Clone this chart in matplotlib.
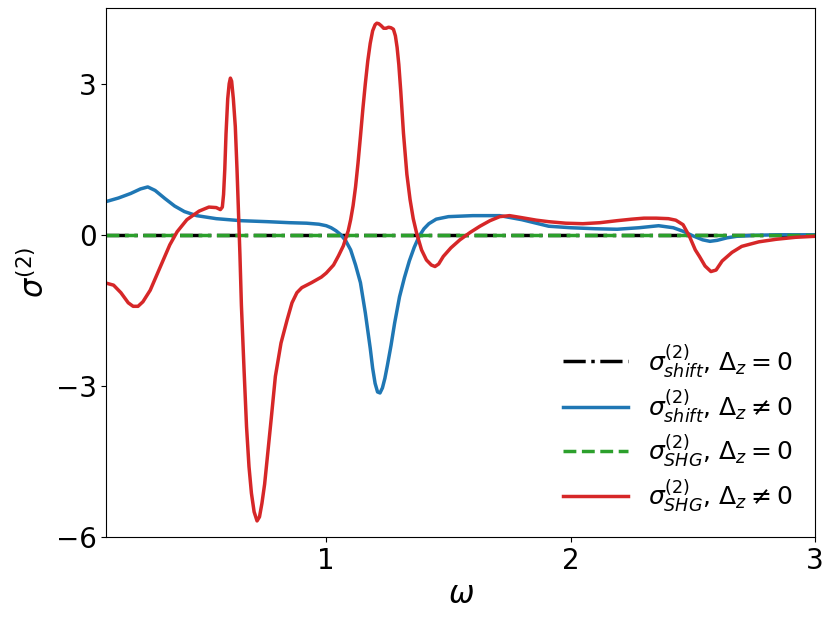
import numpy as np
import matplotlib.pyplot as plt

# omega grid (separate for each curve)
w_shift = [0.10, 0.15, 0.20, 0.24, 0.27, 0.30, 0.34, 0.38, 0.42, 0.47, 0.55, 0.65, 0.76, 0.85,
           0.92, 0.97, 1.00, 1.02, 1.04, 1.06, 1.08, 1.10, 1.12, 1.14, 1.16, 1.18, 1.19, 1.20,
           1.21, 1.22, 1.23, 1.24, 1.25, 1.265, 1.28, 1.30, 1.32, 1.34, 1.36, 1.38, 1.40, 1.42,
           1.45, 1.50, 1.60, 1.71, 1.80, 1.91, 2.00, 2.10, 2.19, 2.28, 2.36, 2.42, 2.46, 2.50,
           2.54, 2.57, 2.60, 2.64, 2.68, 2.75, 2.85, 3.00]
s_shift = [0.66, 0.73, 0.82, 0.91, 0.95, 0.88, 0.72, 0.57, 0.46, 0.38, 0.32, 0.28, 0.26, 0.24,
           0.23, 0.21, 0.18, 0.14, 0.08, 0.00, -0.12, -0.30, -0.60, -0.95, -1.55, -2.25, -2.65, -2.95,
           -3.12, -3.14, -3.04, -2.85, -2.60, -2.20, -1.75, -1.23, -0.85, -0.52, -0.25, -0.03, 0.12, 0.22,
           0.31, 0.36, 0.38, 0.38, 0.30, 0.17, 0.14, 0.12, 0.11, 0.14, 0.18, 0.14, 0.07, -0.02,
           -0.10, -0.13, -0.11, -0.06, -0.03, -0.01, 0.00, 0.00]

w_shg = [0.10, 0.13, 0.16, 0.19, 0.21, 0.23, 0.25, 0.28, 0.32, 0.36, 0.39, 0.43, 0.48, 0.52,
         0.55, 0.567, 0.575, 0.58, 0.585, 0.59, 0.597, 0.603, 0.608, 0.613, 0.62, 0.628, 0.635,
         0.64, 0.647, 0.653, 0.664, 0.674, 0.684, 0.694, 0.705, 0.717, 0.727, 0.737, 0.748,
         0.758, 0.775, 0.792, 0.815, 0.84, 0.86, 0.88, 0.90, 0.94, 0.98, 1.00, 1.03, 1.05,
         1.07, 1.09, 1.10, 1.11, 1.12, 1.13, 1.14, 1.15, 1.16, 1.17, 1.18, 1.19, 1.20, 1.207,
         1.215, 1.225, 1.235, 1.245, 1.255, 1.265, 1.275, 1.283, 1.29, 1.297, 1.305, 1.316,
         1.33, 1.343, 1.356, 1.37, 1.39, 1.41, 1.43, 1.445, 1.46, 1.479, 1.51, 1.547, 1.59,
         1.629, 1.67, 1.71, 1.75, 1.80, 1.86, 1.91, 1.98, 2.05, 2.12, 2.19, 2.25, 2.30, 2.35,
         2.40, 2.43, 2.46, 2.486, 2.51, 2.527, 2.55, 2.574, 2.595, 2.62, 2.66, 2.70, 2.77,
         2.84, 2.92, 3.00]
s_shg = [-0.96, -1.00, -1.15, -1.35, -1.42, -1.42, -1.33, -1.10, -0.65, -0.20, 0.06, 0.30, 0.47, 0.55,
         0.54, 0.50, 0.55, 0.80, 1.30, 2.00, 2.70, 3.00, 3.11, 3.05, 2.70, 2.15, 1.30,
         0.60, -0.40, -1.40, -2.70, -3.81, -4.60, -5.13, -5.50, -5.68, -5.60, -5.33, -4.95,
         -4.47, -3.65, -2.81, -2.15, -1.69, -1.35, -1.15, -1.05, -0.95, -0.84, -0.76, -0.60, -0.42,
         -0.22, 0.08, 0.30, 0.58, 0.95, 1.42, 1.95, 2.50, 3.00, 3.45, 3.80, 4.05, 4.17, 4.20,
         4.19, 4.15, 4.10, 4.10, 4.12, 4.11, 4.08, 3.95, 3.72, 3.38, 2.85, 2.02,
         1.20, 0.70, 0.32, 0.03, -0.30, -0.50, -0.60, -0.63, -0.58, -0.43, -0.26, -0.10, 0.05,
         0.17, 0.28, 0.36, 0.38, 0.34, 0.29, 0.26, 0.23, 0.22, 0.24, 0.28, 0.31, 0.33, 0.33,
         0.32, 0.29, 0.20, -0.03, -0.30, -0.43, -0.62, -0.73, -0.70, -0.52, -0.35, -0.23, -0.14,
         -0.09, -0.05, -0.03]

w_zero = [0.10, 3.00]
s_zero = [0.0, 0.0]

fig = plt.figure(figsize=(8.3, 6.23), dpi=100)
ax = fig.add_axes([0.128, 0.138, 0.854, 0.849])

ax.plot(w_zero, s_zero, 'k-.', lw=2.5, label=r'$\sigma^{(2)}_{shift}$, $\Delta_z = 0$')
ax.plot(w_shift, s_shift, color='C0', lw=2.5, label=r'$\sigma^{(2)}_{shift}$, $\Delta_z \neq 0$')
ax.plot(w_zero, s_zero, '--', color='C2', lw=2.5, label=r'$\sigma^{(2)}_{SHG}$, $\Delta_z = 0$')
ax.plot(w_shg, s_shg, color='C3', lw=2.5, label=r'$\sigma^{(2)}_{SHG}$, $\Delta_z \neq 0$')

ax.set_xlim(0.1, 3)
ax.set_ylim(-6, 4.5)
ax.set_xticks([1, 2, 3])
ax.set_yticks([-6, -3, 0, 3])
ax.tick_params(labelsize=20)
ax.set_xlabel(r'$\omega$', fontsize=22)
ax.set_ylabel(r'$\sigma^{(2)}$', fontsize=22)

ax.legend(loc='lower right', frameon=False, fontsize=18, handlelength=2.6, labelspacing=0.3)

fig.savefig('out.png', dpi=100)
